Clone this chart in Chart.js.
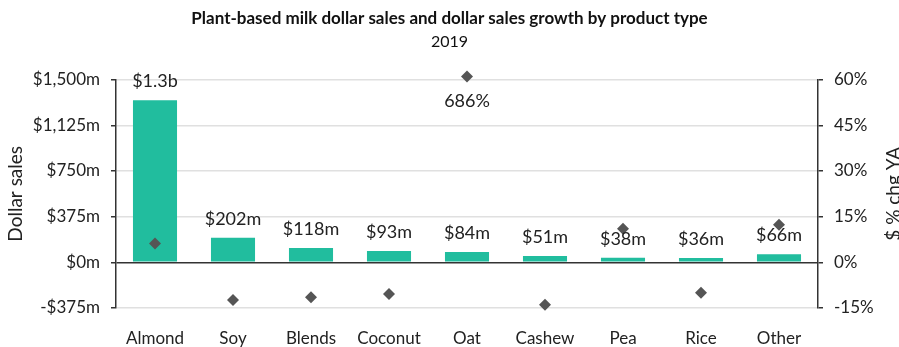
<!DOCTYPE html>
<html>
<head>
<meta charset="utf-8">
<title>Plant-based milk dollar sales</title>
<script src="https://cdn.jsdelivr.net/npm/chart.js@4/dist/chart.umd.min.js"></script>
<style>
  html, body { margin: 0; padding: 0; background: #fff; }
  #wrap { width: 899px; height: 347px; }
</style>
</head>
<body>
<div id="wrap"><canvas id="GraphLeche"></canvas></div>
<script>
// product types and 2019 figures
var categorias = ["Almond", "Soy", "Blends", "Coconut", "Oat", "Cashew", "Pea", "Rice", "Other"];
var ventasDolares = [1330, 202, 118, 93, 84, 51, 38, 36, 66]; // $ millions
var crecimiento = [6.2, -12.4, -11.5, -10.4, 686, -13.9, 11.0, -10.0, 12.3]; // % chg vs year ago
var ticksVentas = [-375, 0, 375, 750, 1125, 1500];
var ticksCrecimiento = [-15, 0, 15, 30, 45, 60];

var topeCrecimiento = 61; // points above the axis are pinned just over the top line

var fuente = "Lato, 'Noto Sans', sans-serif";
Chart.defaults.font.family = fuente;
Chart.defaults.color = "#222";

function formatoVentas(v) {
  if (v >= 1000) {
    return "$" + (v / 1000).toFixed(1) + "b";
  }
  return "$" + v + "m";
}

function formatoEje(v) {
  return (v < 0 ? "-" : "") + "$" + Math.abs(v).toLocaleString("en-US") + "m";
}

// value labels over the bars, the off-scale growth point and the right axis title
var etiquetas = {
  id: "etiquetas",
  afterDatasetsDraw: function (chart) {
    var ctx = chart.ctx;
    ctx.save();
    ctx.font = "18px " + fuente;
    ctx.fillStyle = "#222";
    ctx.textAlign = "center";
    ctx.textBaseline = "middle";
    chart.getDatasetMeta(0).data.forEach(function (bar, i) {
      ctx.fillText(formatoVentas(ventasDolares[i]), bar.x, bar.y - 19);
    });
    chart.getDatasetMeta(1).data.forEach(function (pt, i) {
      if (crecimiento[i] > topeCrecimiento) {
        ctx.fillText(crecimiento[i] + "%", pt.x, pt.y + 25);
      }
    });
    ctx.restore();

    // right axis title reads bottom to top, same as the left one
    var area = chart.chartArea;
    ctx.save();
    ctx.translate(894, (area.top + area.bottom) / 2);
    ctx.rotate(-Math.PI / 2);
    ctx.font = "19px " + fuente;
    ctx.fillStyle = "#222";
    ctx.textAlign = "center";
    ctx.textBaseline = "middle";
    ctx.fillText("$ % chg YA", 0, 0);
    ctx.restore();
  },
};

const ctx = document.getElementById("GraphLeche");

window.graphLeche = new Chart(ctx, {
  type: "bar",
  data: {
    labels: categorias,
    datasets: [
      {
        label: "Dollar sales",
        data: ventasDolares,
        backgroundColor: "#21bd9e",
        barPercentage: 0.565,
        categoryPercentage: 1,
        yAxisID: "y",
        order: 1,
      },
      {
        type: "line",
        label: "$ % chg YA",
        data: crecimiento.map(function (v) {
          return Math.min(v, topeCrecimiento);
        }),
        showLine: false,
        pointStyle: "rectRot",
        pointRadius: 6,
        pointHoverRadius: 6,
        pointBackgroundColor: "#555",
        pointBorderColor: "#555",
        pointBorderWidth: 0,
        yAxisID: "y1",
        clip: false,
        order: 0,
      },
    ],
  },
  options: {
    responsive: true,
    maintainAspectRatio: false,
    animation: false,
    layout: { padding: 0 },
    plugins: {
      legend: { display: false },
      tooltip: { enabled: false },
      title: {
        display: true,
        text: "Plant-based milk dollar sales and dollar sales growth by product type",
        font: { size: 17, weight: "bold" },
        color: "#111",
        padding: { top: 8, bottom: 2 },
      },
      subtitle: {
        display: true,
        text: "2019",
        font: { size: 16 },
        color: "#111",
        padding: { top: 2, bottom: 28 },
      },
    },
    scales: {
      x: {
        grid: { display: false, drawTicks: false },
        border: { display: false },
        afterFit: function (scale) {
          scale.height = 39;
        },
        ticks: { padding: 20, font: { size: 17 }, color: "#222" },
      },
      y: {
        position: "left",
        min: -375,
        max: 1500,
        afterBuildTicks: function (scale) {
          scale.ticks = ticksVentas.map(function (v) { return { value: v }; });
        },
        afterFit: function (scale) {
          scale.width = 116;
        },
        ticks: {
          callback: function (v) { return formatoEje(v); },
          padding: 11,
          font: { size: 17 },
          color: "#222",
        },
        grid: {
          color: function (c) {
            return c.tick && c.tick.value === 0 ? "#333" : "#e0e0e0";
          },
          lineWidth: 1.5,
          tickColor: "#333",
          tickLength: 5,
        },
        border: { color: "#333", width: 1.5 },
        title: {
          display: true,
          text: "Dollar sales",
          font: { size: 19 },
          color: "#222",
          padding: { top: 4, bottom: 0 },
        },
      },
      y1: {
        position: "right",
        min: -15,
        max: 60,
        afterBuildTicks: function (scale) {
          scale.ticks = ticksCrecimiento.map(function (v) { return { value: v }; });
        },
        afterFit: function (scale) {
          scale.width = 81;
        },
        ticks: {
          callback: function (v) { return v + "%"; },
          padding: 11,
          font: { size: 17 },
          color: "#222",
        },
        grid: {
          drawOnChartArea: false,
          tickColor: "#333",
          tickLength: 5,
          lineWidth: 1.5,
        },
        border: { color: "#333", width: 1.5 },
      },
    },
  },
  plugins: [etiquetas],
});
</script>
</body>
</html>
